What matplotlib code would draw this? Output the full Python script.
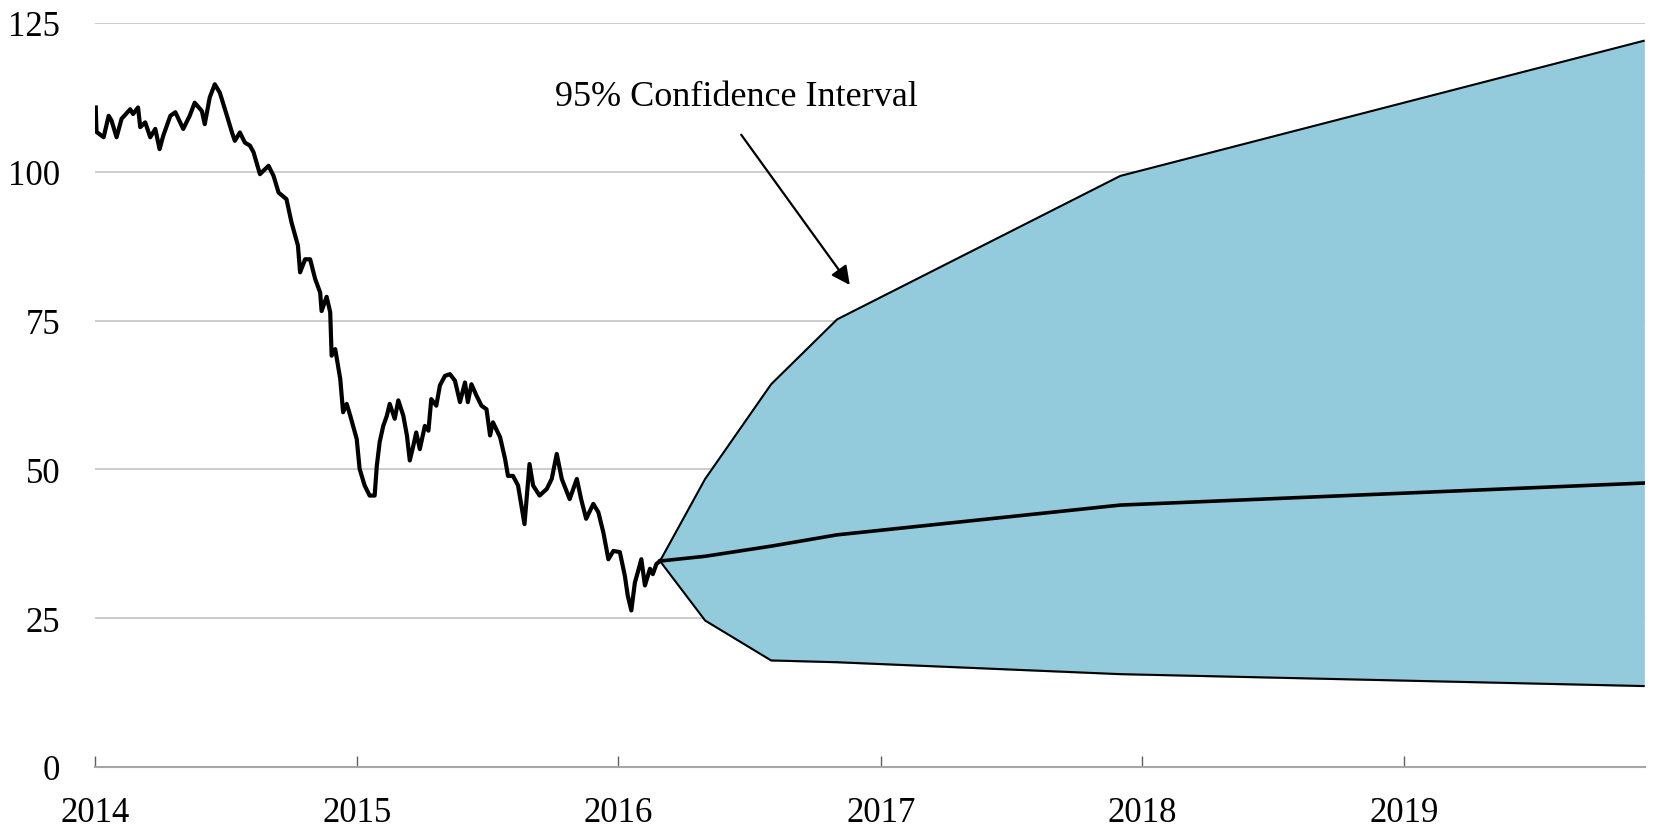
import pandas as pd
import matplotlib.pyplot as plt
import matplotlib.dates as mdates

# Historical price
hist_dates = [
    "2014-01-02", "2014-01-03", "2014-01-13", "2014-01-20", "2014-01-24", "2014-01-31",
    "2014-02-07", "2014-02-19", "2014-02-23", "2014-03-02", "2014-03-05", "2014-03-12",
    "2014-03-19", "2014-03-26", "2014-04-01", "2014-04-06", "2014-04-16", "2014-04-23",
    "2014-05-04", "2014-05-13", "2014-05-20", "2014-05-30", "2014-06-03", "2014-06-10",
    "2014-06-17", "2014-06-24", "2014-07-04", "2014-07-11", "2014-07-15", "2014-07-22",
    "2014-07-29", "2014-08-05", "2014-08-10", "2014-08-19", "2014-08-31", "2014-09-07",
    "2014-09-14", "2014-09-25", "2014-10-02", "2014-10-11", "2014-10-14", "2014-10-21",
    "2014-10-28", "2014-11-04", "2014-11-11", "2014-11-13", "2014-11-20", "2014-11-25",
    "2014-11-27", "2014-12-02", "2014-12-09", "2014-12-13", "2014-12-18", "2014-12-23",
    "2015-01-01", "2015-01-05", "2015-01-12", "2015-01-19", "2015-01-26", "2015-01-29",
    "2015-02-02", "2015-02-07", "2015-02-12", "2015-02-16", "2015-02-23", "2015-02-28",
    "2015-03-07", "2015-03-12", "2015-03-16", "2015-03-21", "2015-03-25", "2015-03-30",
    "2015-04-06", "2015-04-11", "2015-04-15", "2015-04-22", "2015-04-27", "2015-05-04",
    "2015-05-11", "2015-05-18", "2015-05-25", "2015-06-01", "2015-06-05", "2015-06-10",
    "2015-06-17", "2015-06-24", "2015-07-01", "2015-07-06", "2015-07-10", "2015-07-20",
    "2015-07-27", "2015-07-31", "2015-08-07", "2015-08-14", "2015-08-23", "2015-08-30",
    "2015-09-04", "2015-09-13", "2015-09-23", "2015-09-30", "2015-10-07", "2015-10-14",
    "2015-10-25", "2015-11-04", "2015-11-10", "2015-11-17", "2015-11-27", "2015-12-04",
    "2015-12-11", "2015-12-18", "2015-12-25", "2016-01-03", "2016-01-10", "2016-01-14",
    "2016-01-19", "2016-01-24", "2016-01-28", "2016-02-02", "2016-02-07", "2016-02-14",
    "2016-02-18", "2016-02-23", "2016-02-28",
]
hist_price = [
    110.8, 106.7, 105.8, 109.4, 108.6, 105.8,
    108.9, 110.5, 109.7, 110.8, 107.5, 108.3,
    105.8, 107.2, 103.8, 106.0, 109.4, 110.0,
    107.2, 109.4, 111.6, 110.2, 108.0, 112.5,
    114.7, 113.3, 109.4, 106.6, 105.2, 106.6,
    104.9, 104.4, 103.3, 99.6, 101.0, 99.3,
    96.5, 95.4, 91.5, 87.6, 83.1, 85.3,
    85.3, 82.0, 79.7, 76.6, 79.0, 76.4,
    69.1, 70.2, 65.2, 59.6, 61.0, 59.0,
    55.1, 50.1, 47.3, 45.6, 45.6, 50.6,
    54.6, 57.3, 59.0, 61.0, 58.5, 61.6,
    59.0, 55.7, 51.5, 54.0, 56.2, 53.4,
    57.3, 56.5, 61.8, 60.7, 64.1, 65.7,
    66.0, 64.9, 61.3, 64.6, 61.3, 64.3,
    62.4, 60.7, 60.1, 55.7, 57.9, 55.4,
    51.7, 48.9, 48.9, 47.3, 40.8, 50.9,
    47.3, 45.6, 46.7, 48.4, 52.6, 48.4,
    45.0, 48.4, 45.0, 41.7, 44.2, 42.8,
    39.4, 34.9, 36.3, 36.1, 32.1, 28.8,
    26.3, 31.0, 32.7, 34.9, 30.5, 33.3,
    32.4, 34.1, 34.6,
]

# Forecast fan
fc_dates = ["2016-02-28", "2016-05-01", "2016-08-01", "2016-11-01", "2017-12-01", "2019-12-01"]
fc_mid = [34.6, 35.4, 37.1, 39.0, 44.0, 47.7]
fc_low = [34.6, 24.6, 17.9, 17.6, 15.6, 13.6]
fc_high = [34.6, 48.4, 64.3, 75.2, 99.3, 122.0]

years = [2014, 2015, 2016, 2017, 2018, 2019]
yticks = [0, 25, 50, 75, 100, 125]

hd = pd.to_datetime(hist_dates)
fd = pd.to_datetime(fc_dates)

plt.rcParams['font.family'] = ['Liberation Serif', 'DejaVu Serif']

fig = plt.figure(figsize=(16.53, 8.29), dpi=100)
ax = fig.add_axes([0.0575, 0.0736, 0.9377, 0.8975])

ax.fill_between(fd, fc_low, fc_high, color='#93cbdc', zorder=2)
ax.plot(fd, fc_high, color='black', lw=1.5, zorder=3)
ax.plot(fd, fc_low, color='black', lw=1.5, zorder=3)
ax.plot(fd, fc_mid, color='black', lw=2.6, zorder=4)
ax.plot(hd, hist_price, color='black', lw=3.0, zorder=4, solid_joinstyle='round')

# Axes styling
ax.set_ylim(0, 125)
ax.set_xlim(pd.Timestamp("2014-01-01"), pd.Timestamp("2019-12-03"))
ax.set_yticks(yticks)
ax.set_xticks([pd.Timestamp(f"{y}-01-01") for y in years])
ax.xaxis.set_major_formatter(mdates.DateFormatter('%Y'))
ax.grid(axis='y', color='#c4c4c4', lw=1.2)
ax.set_axisbelow(True)
for s in ['top', 'right', 'left']:
    ax.spines[s].set_visible(False)
ax.spines['bottom'].set_color('#a6a6a6')
ax.spines['bottom'].set_linewidth(1.5)
ax.tick_params(axis='y', length=0, pad=25, labelsize=25)
ax.tick_params(axis='x', direction='in', length=8, width=1, color='#606060',
               pad=21, labelsize=25)

# Annotation
ax.text(pd.Timestamp("2016-06-13"), 112.7, "95% Confidence Interval",
        ha='center', va='center', fontsize=26)
ax.annotate('', xy=(pd.Timestamp("2016-11-21"), 80.6),
            xytext=(pd.Timestamp("2016-06-18"), 106.6),
            arrowprops=dict(arrowstyle='-|>', color='black', lw=1.6, mutation_scale=28))

fig.savefig('out.png', dpi=100)
